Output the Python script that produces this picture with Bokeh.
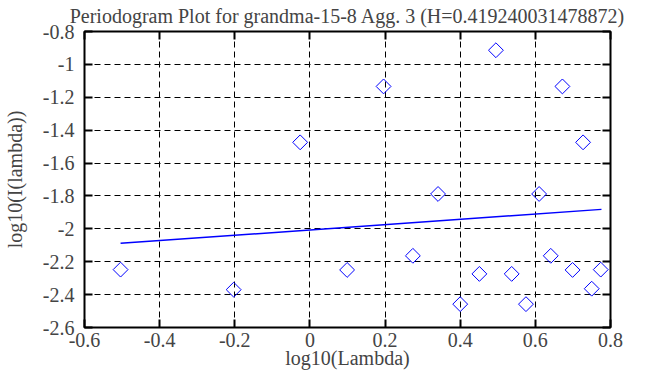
import numpy as np
from bokeh.plotting import figure
from bokeh.models import LinearAxis, FixedTicker, ColumnDataSource
from bokeh.embed import file_html
from bokeh.resources import INLINE

# ---- data ----
log_lambda = [-0.504, -0.203, -0.026, 0.099, 0.196, 0.274, 0.341, 0.400, 0.451,
              0.495, 0.537, 0.575, 0.610, 0.641, 0.672, 0.699, 0.727, 0.750, 0.774]
log_I = [-2.248, -2.370, -1.474, -2.250, -1.134, -2.164, -1.788, -2.458, -2.274,
         -0.914, -2.274, -2.458, -1.788, -2.164, -1.134, -2.250, -1.474, -2.364, -2.248]
fit_x = [-0.504, 0.776]
fit_intercept = -2.007
fit_slope = 0.1615
fit_y = [fit_intercept + fit_slope * v for v in fit_x]

x_ticks = [-0.6, -0.4, -0.2, 0.0, 0.2, 0.4, 0.6, 0.8]
x_tick_labels = ["-0.6", "-0.4", "-0.2", "0", "0.2", "0.4", "0.6", "0.8"]
y_ticks = [-2.6, -2.4, -2.2, -2.0, -1.8, -1.6, -1.4, -1.2, -1.0, -0.8]
y_tick_labels = ["-2.6", "-2.4", "-2.2", "-2", "-1.8", "-1.6", "-1.4", "-1.2", "-1", "-0.8"]

title_text = "Periodogram Plot for grandma-15-8 Agg. 3 (H=0.419240031478872)"
FONT = "Liberation Serif"

p = figure(width=647, height=371,
           min_border_left=82, min_border_right=37, min_border_top=31, min_border_bottom=40,
           x_range=(-0.6, 0.8), y_range=(-2.6, -0.8),
           output_backend="svg", toolbar_location=None,
           title=title_text)
p.title.text_font = FONT
p.title.text_font_size = "20px"
p.title.text_font_style = "normal"
p.title.align = "center"
p.title.standoff = 0
p.title.offset = 0

p.background_fill_color = "white"
p.border_fill_color = "white"
p.outline_line_color = "black"
p.outline_line_width = 2

for ax, ticks, labels in ((p.xaxis[0], x_ticks, x_tick_labels), (p.yaxis[0], y_ticks, y_tick_labels)):
    ax.ticker = FixedTicker(ticks=ticks)
    ax.major_label_overrides = {t: l for t, l in zip(ticks, labels)}
    ax.major_label_text_font = FONT
    ax.major_label_text_font_size = "20px"
    ax.axis_label_text_font = FONT
    ax.axis_label_text_font_size = "20px"
    ax.axis_label_text_font_style = "normal"
    ax.major_tick_in = 8
    ax.major_tick_out = 0
    ax.major_tick_line_width = 2
    ax.minor_tick_line_color = None
    ax.axis_line_color = None

p.xaxis[0].major_label_standoff = 5
p.yaxis[0].major_label_standoff = 10
p.xaxis[0].axis_label = "log10(Lambda)"
p.yaxis[0].axis_label = "log10(I(lambda))"
p.xaxis[0].axis_label_standoff = -3
p.yaxis[0].axis_label_standoff = 14

# mirrored tick axes on top and right (no labels)
blank_x = {t: " " for t in x_ticks}
blank_y = {t: " " for t in y_ticks}
top = LinearAxis(ticker=FixedTicker(ticks=x_ticks), major_label_overrides=blank_x,
                 major_label_standoff=0, major_tick_in=8, major_tick_out=0,
                 major_tick_line_width=2, minor_tick_line_color=None, axis_line_color=None,
                 major_label_text_font_size="2px")
right = LinearAxis(ticker=FixedTicker(ticks=y_ticks), major_label_overrides=blank_y,
                   major_label_standoff=0, major_tick_in=8, major_tick_out=0,
                   major_tick_line_width=2, minor_tick_line_color=None, axis_line_color=None,
                   major_label_text_font_size="2px")
p.add_layout(top, "above")
p.add_layout(right, "right")

p.xgrid.ticker = FixedTicker(ticks=x_ticks[1:-1])
p.ygrid.ticker = FixedTicker(ticks=y_ticks[1:-1])
for g in (p.xgrid[0], p.ygrid[0]):
    g.grid_line_color = "black"
    g.grid_line_dash = "6 4"
    g.grid_line_width = 1
    g.level = "underlay"

src = ColumnDataSource(dict(x=log_lambda, y=log_I))
p.scatter("x", "y", source=src, marker="square", size=10.5, angle=np.pi / 4,
          fill_color=None, line_color="#0000ff", line_width=1)
p.line(fit_x, fit_y, line_color="#0000ff", line_width=1.5)

open("out.html", "w").write(file_html(p, INLINE))
